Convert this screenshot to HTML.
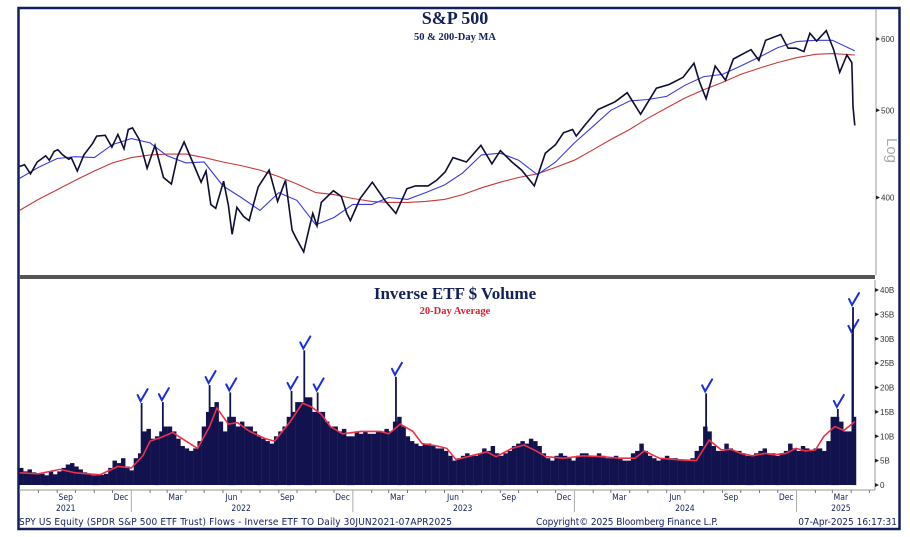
<!DOCTYPE html>
<html><head><meta charset="utf-8"><style>
body{margin:0;background:#fff;width:910px;height:537px;overflow:hidden}
svg{display:block;font-family:"Liberation Sans",sans-serif}
</style></head><body>
<svg id="c" width="910" height="537" viewBox="0 0 910 537">
<rect x="18.5" y="8" width="881" height="521" fill="#fff" stroke="#14205a" stroke-width="2.5"/>
<rect x="19" y="275" width="856" height="4" fill="#555"/>
<line x1="876" y1="9" x2="876" y2="275" stroke="#999" stroke-width="1"/>
<line x1="875" y1="280" x2="875" y2="490" stroke="#999" stroke-width="1"/>
<line x1="19" y1="490" x2="875" y2="490" stroke="#999" stroke-width="1"/>
<text x="455" y="24" text-anchor="middle" font-family="Liberation Serif,serif" font-weight="bold" font-size="18" fill="#14205a">S&amp;P 500</text>
<text x="455" y="40" text-anchor="middle" font-family="Liberation Serif,serif" font-weight="bold" font-size="10.5" fill="#14205a">50 &amp; 200-Day MA</text>
<text x="455" y="299" text-anchor="middle" font-family="Liberation Serif,serif" font-weight="bold" font-size="17" fill="#14205a">Inverse ETF $ Volume</text>
<text x="455" y="314" text-anchor="middle" font-family="Liberation Serif,serif" font-weight="bold" font-size="10.5" fill="#e02030">20-Day Average</text>
<text x="887" y="138" font-size="15" fill="#aaa" transform="rotate(90 887 138)">Log</text>
<g id="topPanel"></g>
<g id="botPanel"></g>
<g id="axesG"></g>
<text x="19" y="525" font-size="10" fill="#14205a" font-family="DejaVu Sans Condensed,DejaVu Sans,sans-serif" textLength="433">SPY US Equity (SPDR S&amp;P 500 ETF Trust) Flows - Inverse ETF TO  Daily 30JUN2021-07APR2025</text>
<text x="536" y="525" font-size="10" fill="#14205a" font-family="DejaVu Sans Condensed,DejaVu Sans,sans-serif" textLength="182">Copyright© 2025 Bloomberg Finance L.P.</text>
<text x="897" y="525" font-size="10" fill="#14205a" text-anchor="end" font-family="DejaVu Sans Condensed,DejaVu Sans,sans-serif">07-Apr-2025 16:17:31</text>
</svg>
<script>
const priceDates=['2021-07-01','2021-07-09','2021-07-19','2021-07-30','2021-08-13','2021-08-19','2021-08-27','2021-09-02','2021-09-10','2021-09-20','2021-09-24','2021-10-04','2021-10-15','2021-10-29','2021-11-05','2021-11-19','2021-11-30','2021-12-10','2021-12-20','2021-12-27','2022-01-03','2022-01-14','2022-01-27','2022-02-09','2022-02-23','2022-03-08','2022-03-18','2022-03-29','2022-04-12','2022-04-26','2022-05-04','2022-05-12','2022-05-20','2022-06-02','2022-06-10','2022-06-16','2022-06-24','2022-07-05','2022-07-14','2022-07-29','2022-08-16','2022-08-30','2022-09-12','2022-09-23','2022-09-30','2022-10-12','2022-10-20','2022-10-27','2022-11-03','2022-11-10','2022-11-30','2022-12-13','2022-12-22','2022-12-28','2023-01-13','2023-02-02','2023-02-24','2023-03-13','2023-03-31','2023-04-14','2023-05-05','2023-05-19','2023-06-02','2023-06-15','2023-07-07','2023-07-31','2023-08-18','2023-09-01','2023-09-20','2023-10-06','2023-10-27','2023-11-14','2023-12-01','2023-12-14','2023-12-29','2024-01-04','2024-01-19','2024-02-09','2024-03-08','2024-03-28','2024-04-19','2024-05-15','2024-06-05','2024-06-28','2024-07-16','2024-07-25','2024-08-05','2024-08-20','2024-09-06','2024-09-19','2024-10-18','2024-10-31','2024-11-11','2024-12-06','2024-12-18','2024-12-31','2025-01-13','2025-01-23','2025-02-03','2025-02-19','2025-03-03','2025-03-13','2025-03-25','2025-04-02','2025-04-03','2025-04-04','2025-04-07'];
const priceVals=[433,435,425,438,445,440,450,452,446,441,443,428,446,459,468,469,455,470,453,476,478,464,431,457,421,414,444,461,438,416,428,393,389,417,392,364,390,381,377,411,429,396,418,368,360,348,367,384,372,395,407,401,384,377,399,416,396,384,409,412,412,418,427,443,438,457,436,451,438,429,412,448,458,472,476,468,482,501,511,523,495,529,534,544,564,538,515,560,540,570,584,568,598,607,586,586,581,609,597,613,584,551,576,565,536,505,481];
const maDates=['2021-07-01','2021-08-01','2021-09-01','2021-10-01','2021-11-01','2021-12-01','2022-01-01','2022-02-01','2022-03-01','2022-04-01','2022-05-01','2022-06-01','2022-07-01','2022-08-01','2022-09-01','2022-10-01','2022-11-01','2022-12-01','2023-01-01','2023-02-01','2023-03-01','2023-04-01','2023-05-01','2023-06-01','2023-07-01','2023-08-01','2023-09-01','2023-10-01','2023-11-01','2023-12-01','2024-01-01','2024-02-01','2024-03-01','2024-04-01','2024-05-01','2024-06-01','2024-07-01','2024-08-01','2024-09-01','2024-10-01','2024-11-01','2024-12-01','2025-01-01','2025-02-01','2025-03-01','2025-04-07'];
const ma50Vals=[420,432,442,444,443,458,465,460,445,437,438,412,400,387,405,397,373,380,393,393,400,398,405,413,426,446,448,440,424,438,460,480,500,512,514,518,533,545,548,560,573,587,596,598,598,582];
const ma200Vals=[387,398,408,418,428,437,443,446,447,447,443,438,434,429,422,414,405,403,399,396,395,395,396,398,403,410,416,421,425,432,440,452,464,476,490,503,516,527,537,548,557,565,572,577,578,576];
const volWeekStart='2021-07-02';
const volWeekly=[3.5,2.8,3.2,2.6,2.4, 2.3,2.0,2.8,2.2, 2.8,3.5,4.2,4.5, 3.8,3.2,2.6,2.2,2.0, 2.0,2.1,2.3,3.5, 5.0,4.5,5.5,3.8,3.0,
5.5,6.5,11,11.5, 9.5,10,11,12, 12,11,9.5,8, 7.5,7,7.5,9,12, 15,16,17,13, 11,14,14,12, 13,12,12,11,10, 9.5,9,8.5,10, 11,12,14,15,17, 17,18,18,15, 15,15,13,12, 12,11,11.5,10,10,
11,10.5,11,10.5, 10.5,11,11,11.5, 11,13,14,12,10, 9,8.5,8,8.5, 8.5,8,7.5,7.5, 7,6,5,5.5,6, 6.5,6,6,6.5, 7.5,7,8,6.5, 6,6.5,7,8,8.5, 9,8.5,9.5,9, 8,6.5,5.5,5, 6,6.5,6,5.5,5,
6,6.5,6.5,6, 6,6.5,6,5.5, 5.5,6,5.5,5,5, 6.5,7,8.5,7, 6,5.5,5,5.5,6, 5.5,5.5,5,5, 5,5.5,7,8, 12,11,8,7,7, 8.5,7.5,7,7, 6.5,6,6,6.5, 7,7.5,6.5,6.5,6, 6.5,7,8.5,7.5,
7,8,7.5,7,7.5, 7.5,7,9,14, 14,13,11,11, 14];
const spikeDates=['2022-01-18','2022-02-22','2022-05-10','2022-06-13','2022-09-22','2022-10-13','2022-11-04','2023-03-13','2024-08-05','2025-03-10','2025-04-03','2025-04-04'];
const spikeVals=[16.8,17,20.5,19,19.3,27.6,19,22.2,18.8,15.6,31,36.5];
const avgDates=['2021-07-01','2021-08-01','2021-09-05','2021-10-01','2021-11-10','2021-12-10','2022-01-01','2022-01-20','2022-02-01','2022-02-20','2022-03-10','2022-04-01','2022-04-20','2022-05-10','2022-05-22','2022-06-10','2022-06-25','2022-07-15','2022-08-10','2022-08-25','2022-09-20','2022-10-10','2022-10-25','2022-11-10','2022-11-25','2022-12-15','2023-01-15','2023-02-15','2023-03-01','2023-03-20','2023-04-10','2023-04-25','2023-05-20','2023-06-05','2023-06-20','2023-07-15','2023-08-10','2023-08-25','2023-09-20','2023-10-10','2023-10-30','2023-11-15','2023-12-15','2024-01-15','2024-02-15','2024-03-15','2024-04-10','2024-04-25','2024-05-20','2024-06-15','2024-07-20','2024-08-10','2024-08-30','2024-09-15','2024-10-01','2024-10-20','2024-11-10','2024-11-25','2024-12-15','2024-12-31','2025-01-15','2025-02-01','2025-02-15','2025-03-05','2025-03-20','2025-04-07'];
const avgVals=[2.5,2.3,3.2,2.5,2.1,3.8,3.5,6,9,9.8,10.8,9,7.5,12,15.8,12.5,12.8,11,9.5,9,13,16.8,16,14.5,12,10.5,11,11,10.5,12.5,11,8.5,8,7.5,5.2,6,6.8,5.8,7.5,8.2,7,5.8,5.5,6,5.8,5.5,5.5,7,5.5,5.2,5,9.2,7.2,7.3,6.5,6,6.5,6.2,6.5,7.5,7,7.2,10,12,11.2,13];
const priceTicks=[400,500,600];
const volTicks=[0,5,10,15,20,25,30,35,40];
const monthLabels=['Sep','Dec','Mar','Jun','Sep','Dec','Mar','Jun','Sep','Dec','Mar','Jun','Sep','Dec','Mar'];
const monthLabelDates=['2021-09-15','2021-12-15','2022-03-15','2022-06-15','2022-09-15','2022-12-15','2023-03-15','2023-06-15','2023-09-15','2023-12-15','2024-03-15','2024-06-15','2024-09-15','2024-12-15','2025-03-15'];
const yearLabels=['2021','2022','2023','2024','2025'];
const yearLabelDates=['2021-09-15','2022-07-01','2023-07-01','2024-07-01','2025-03-15'];

const NS='http://www.w3.org/2000/svg';
const T0=Date.parse('2021-06-30');
function xOf(d){return 19+(Date.parse(d)-T0)/864e5*0.607;}
function xDays(n){return 19+n*0.607;}
function yP(v){return 39+Math.log10(600/v)*900;}
function yV(v){return 485-v*4.875;}
function mk(tag,attrs,parent){const e=document.createElementNS(NS,tag);for(const k in attrs)e.setAttribute(k,attrs[k]);parent.appendChild(e);return e;}
const gTop=document.getElementById('topPanel'),gBot=document.getElementById('botPanel'),gAx=document.getElementById('axesG');

function linePath(dates,vals,yf){return dates.map((d,i)=>(i?'L':'M')+xOf(d).toFixed(1)+','+yf(vals[i]).toFixed(1)).join('');}
let p=mk('path',{d:linePath(maDates,ma200Vals,yP),fill:'none',stroke:'#c8383c','stroke-width':1.1},gTop);


p=mk('path',{d:linePath(maDates,ma50Vals,yP),fill:'none',stroke:'#3a3ae0','stroke-width':1.1},gTop);


p=mk('path',{d:linePath(priceDates,priceVals,yP),fill:'none',stroke:'#0d0d33','stroke-width':1.6},gTop);



const W0=(Date.parse(volWeekStart)-T0)/864e5;
volWeekly.forEach((v,i)=>{
  const x=xDays(W0+i*7-2);
  const r=mk('rect',{x:x.toFixed(2),y:yV(v).toFixed(1),width:4.45,height:(485-yV(v)).toFixed(1),fill:'#12124f'},gBot);
  
  
});
spikeDates.forEach((d,i)=>{
  const x=xOf(d);
  const yt=yV(spikeVals[i]);
  const r=mk('rect',{x:(x-0.9).toFixed(2),y:yt.toFixed(1),width:1.8,height:(485-yt).toFixed(1),fill:'#12124f'},gBot);
  
  
  const c=mk('path',{d:`M${x-4},${yt-8} L${x-1},${yt-2} L${x+6},${yt-14}`,fill:'none',stroke:'#1a2ee0','stroke-width':2,'stroke-linecap':'round'},gBot);
  
  
});
p=mk('path',{d:linePath(avgDates,avgVals,yV),fill:'none',stroke:'#f03048','stroke-width':1.6},gBot);



priceTicks.forEach(v=>{
  const y=yP(v);
  const t=mk('path',{d:`M876,${y-2}L880,${y}L876,${y+2}Z`,fill:'#222'},gAx);
  
  
  const l=mk('text',{x:881,y:y+3,'font-size':8,fill:'#333'},gAx);l.textContent=v;
  
  
});
volTicks.forEach(v=>{
  const y=yV(v);
  const t=mk('path',{d:`M875,${y-2}L879,${y}L875,${y+2}Z`,fill:'#222'},gAx);
  
  
  const l=mk('text',{x:880,y:y+3,'font-size':8,fill:'#333'},gAx);l.textContent=v?v+'B':'0';
  
  
});
for(let m=7;m<=7+46;m++){
  const yr=2021+Math.floor((m-1)/12),mo=((m-1)%12)+1;
  const d=yr+'-'+String(mo).padStart(2,'0')+'-01';
  const x=xOf(d);
  if(x>876)break;
  const t=mk('line',{x1:x,y1:490,x2:x,y2:mo==1?512:493,stroke:mo==1?'#aaa':'#777','stroke-width':1},gAx);
  
  
}
monthLabels.forEach((s,i)=>{
  const l=mk('text',{x:xOf(monthLabelDates[i]),y:500,'font-size':8.5,'text-anchor':'middle',fill:'#14205a','font-family':'DejaVu Sans Condensed,sans-serif'},gAx);l.textContent=s;
  
  
});
yearLabels.forEach((s,i)=>{
  const l=mk('text',{x:xOf(yearLabelDates[i]),y:511,'font-size':8.5,'text-anchor':'middle',fill:'#14205a','font-family':'DejaVu Sans Condensed,sans-serif'},gAx);l.textContent=s;
  
  
});
</script>
</body></html>
